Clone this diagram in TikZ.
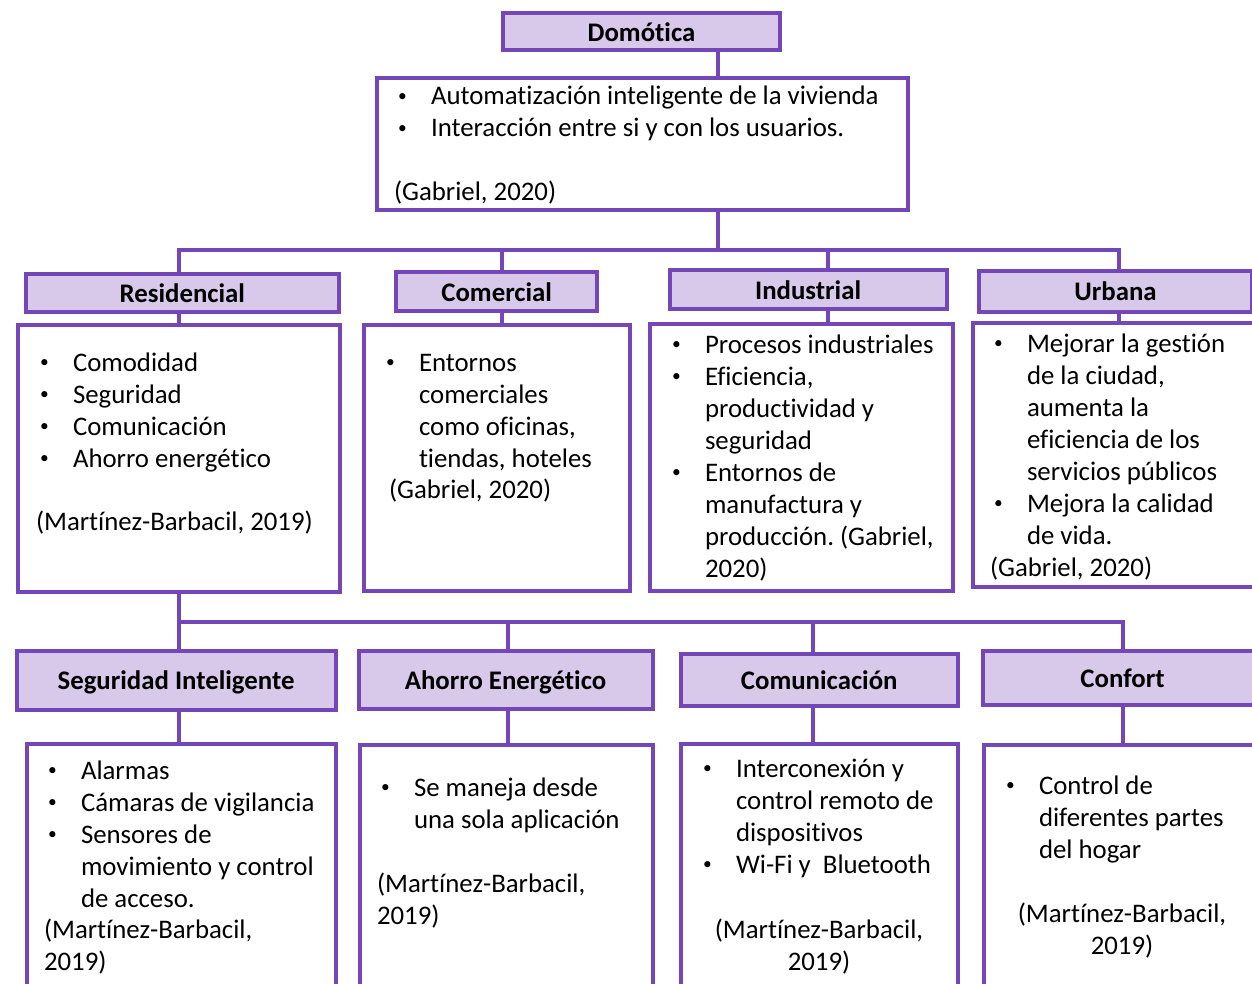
\documentclass[tikz,border=0pt]{standalone}
\usepackage{fontspec}
\setmainfont{Carlito}[Ligatures=NoCommon]
\definecolor{bd}{RGB}{116,70,184}
\definecolor{fl}{RGB}{216,200,234}
\newcommand{\bul}{\makebox[33pt][l]{\raisebox{3.2pt}{\scalebox{0.65}{•}}}}
\newcommand{\ind}{\hspace*{33pt}}
\newcommand{\fnt}{\fontsize{26.8}{32}\selectfont}
\newcommand{\tl}[1]{\begin{tabular}[t]{@{}l@{}}#1\end{tabular}}
\newcommand{\tc}[1]{\begin{tabular}[t]{@{}c@{}}#1\end{tabular}}
\frenchspacing
\begin{document}
\begin{tikzpicture}[x=1pt,y=-1pt,
  box/.style={draw=bd, line width=4pt, inner sep=0pt, outer sep=0pt, rectangle},
  hdr/.style={box, fill=fl, font=\fnt\bfseries, text height=22pt, text depth=3pt},
  cnt/.style={box, fill=white},
  txt/.style={inner sep=0pt, outer sep=0pt, anchor=base west, font=\fnt, align=left},
  ctxt/.style={inner sep=0pt, outer sep=0pt, anchor=base, font=\fnt},
  con/.style={draw=bd, line width=3.5pt}]
\useasboundingbox (0,0) rectangle (1252,984);
\clip (0,0) rectangle (1252,984);
\fill[white] (0,0) rectangle (1252,984);

% connector x positions
\coordinate (c718) at (718,0);
\coordinate (c502) at (502,0);
\coordinate (c828) at (828,0);
\coordinate (c179) at (179,0);
\coordinate (c1119) at (1119,0);
\coordinate (c508) at (508,0);
\coordinate (c813) at (813,0);
\coordinate (c1123) at (1123,0);
\coordinate (bus1L) at (179,250);
\coordinate (bus1R) at (1119,250);
\coordinate (bus2L) at (179,622);
\coordinate (bus2R) at (1123,622);

% top
\node[hdr, minimum width=277pt, minimum height=37pt] (dom) at (641.5,32) {Domótica};
\node[cnt, minimum width=531.3pt, minimum height=132.3pt] (def) at (642.35,143.85) {};

% level 1 headers
\node[hdr, minimum width=313.3pt, minimum height=37.7pt] (resH) at (182.35,293.15) {Residencial};
\node[hdr, minimum width=200.7pt, minimum height=39pt] (comH) at (496.7,291.8) {Comercial};
\node[hdr, minimum width=277pt, minimum height=38.7pt] (indH) at (808.1,289.65) {Industrial};
\node[hdr, minimum width=273pt, minimum height=40.5pt] (urbH) at (1115.5,291.25) {Urbana};

% level 1 contents
\node[cnt, minimum width=322pt, minimum height=267pt] (resC) at (179,458.5) {};
\node[cnt, minimum width=266pt, minimum height=266pt] (comC) at (497,458) {};
\node[cnt, minimum width=303pt, minimum height=267pt] (indC) at (801.5,457.5) {};
\node[cnt, minimum width=289.5pt, minimum height=264pt] (urbC) at (1117.25,455) {};

% level 2 headers
\node[hdr, minimum width=319pt, minimum height=59.5pt] (segH) at (176,680.25) {Seguridad Inteligente};
\node[hdr, minimum width=294pt, minimum height=58pt] (ahoH) at (505.5,680) {Ahorro Energético};
\node[hdr, minimum width=277.5pt, minimum height=52pt] (comuH) at (819.25,680) {Comunicación};
\node[hdr, minimum width=279pt, minimum height=54pt] (confH) at (1122.5,678) {Confort};

% level 2 contents
\node[cnt, minimum width=309pt, minimum height=266pt] (segC) at (181,877) {};
\node[cnt, minimum width=293pt, minimum height=265pt] (ahoC) at (506,877.5) {};
\node[cnt, minimum width=277.5pt, minimum height=266pt] (comuC) at (819.25,877) {};
\node[cnt, minimum width=278pt, minimum height=265pt] (confC) at (1123,877.5) {};

% connectors
\draw[con] (dom.south -| c718) -- (def.north -| c718);
\draw[con] (def.south -| c718) -- (c718 |- bus1L);
\draw[con] (resH.north -| c179) -- (bus1L) -- (bus1R) -- (urbH.north -| c1119);
\draw[con] (c502 |- bus1L) -- (comH.north -| c502);
\draw[con] (c828 |- bus1L) -- (indH.north -| c828);
\draw[con] (resH.south -| c179) -- (resC.north -| c179);
\draw[con] (comH.south -| c502) -- (comC.north -| c502);
\draw[con] (indH.south -| c828) -- (indC.north -| c828);
\draw[con] (urbH.south -| c1119) -- (urbC.north -| c1119);
\draw[con] (resC.south -| c179) -- (bus2L);
\draw[con] (segH.north -| c179) -- (bus2L) -- (bus2R) -- (confH.north -| c1123);
\draw[con] (c508 |- bus2L) -- (ahoH.north -| c508);
\draw[con] (c813 |- bus2L) -- (comuH.north -| c813);
\draw[con] (segH.south -| c179) -- (segC.north -| c179);
\draw[con] (ahoH.south -| c508) -- (ahoC.north -| c508);
\draw[con] (comuH.south -| c813) -- (comuC.north -| c813);
\draw[con] (confH.south -| c1123) -- (confC.north -| c1123);

% texts
\node[txt] (defT) at (398,105) {\tl{\bul Automatización inteligente de la vivienda\\ \bul Interacción entre si y con los usuarios.}};
\node[txt] (defR) at (394,201) {(Gabriel, 2020)};

\node[txt] (resT) at (40,371) {\tl{\bul Comodidad\\ \bul Seguridad\\ \bul Comunicación\\ \bul Ahorro energético}};
\node[txt] (resR) at (36,530) {(Martínez-Barbacil, 2019)};

\node[txt] (comT) at (386,371) {\tl{\bul Entornos\\ \ind comerciales\\ \ind como oficinas,\\ \ind tiendas, hoteles}};
\node[txt] (comR) at (389,498) {(Gabriel, 2020)};

\node[txt] (indT) at (672,353) {\tl{\bul Procesos industriales\\ \bul Eficiencia,\\ \ind productividad y\\ \ind seguridad\\ \bul Entornos de\\ \ind manufactura y\\ \ind producción. (Gabriel,\\ \ind 2020)}};

\node[txt] (urbT) at (994,352) {\tl{\bul Mejorar la gestión\\ \ind de la ciudad,\\ \ind aumenta la\\ \ind eficiencia de los\\ \ind servicios públicos\\ \bul Mejora la calidad\\ \ind de vida.}};
\node[txt] (urbR) at (990,576) {(Gabriel, 2020)};

\node[txt] (segT) at (48,779) {\tl{\bul Alarmas\\ \bul Cámaras de vigilancia\\ \bul Sensores de\\ \ind movimiento y control\\ \ind de acceso.}};
\node[txt] (segR) at (44,938) {\tl{(Martínez-Barbacil,\\ 2019)}};

\node[txt] (ahoT) at (381,796) {\tl{\bul Se maneja desde\\ \ind una sola aplicación}};
\node[txt] (ahoR) at (377,892) {\tl{(Martínez-Barbacil,\\ 2019)}};

\node[txt] (comuT) at (703,777) {\tl{\bul Interconexión y\\ \ind control remoto de\\ \ind dispositivos\\ \bul Wi-Fi y~~Bluetooth}};
\node[ctxt] (comuR) at (819,938) {\tc{(Martínez-Barbacil,\\ 2019)}};

\node[txt] (confT) at (1006,794) {\tl{\bul Control de\\ \ind diferentes partes\\ \ind del hogar}};
\node[ctxt] (confR) at (1122,922) {\tc{(Martínez-Barbacil,\\ 2019)}};
\end{tikzpicture}
\end{document}
